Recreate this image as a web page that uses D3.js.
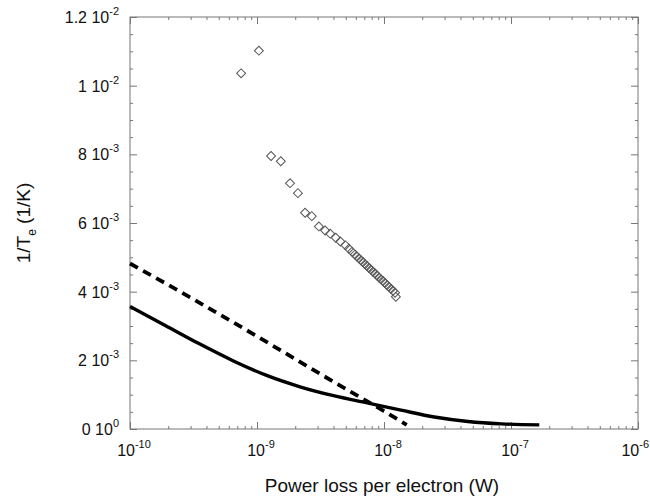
<!DOCTYPE html>
<html>
<head>
<meta charset="utf-8">
<script src="https://cdn.jsdelivr.net/npm/d3@7"></script>
<style>
  body { margin: 0; background: #fff; }
  text { font-family: "Liberation Sans", Arial, sans-serif; fill: #111; }
</style>
</head>
<body>
<div id="chart"></div>
<script>
// measured points (diamonds)
var measP = [7.5e-10, 1.035e-9, 1.29e-9, 1.54e-9, 1.82e-9, 2.10e-9, 2.39e-9, 2.70e-9, 3.07e-9, 3.44e-9,
  3.77e-9, 4.17e-9, 4.53e-9, 4.97e-9, 5.30e-9, 5.60e-9, 5.91e-9, 6.13e-9, 6.35e-9, 6.59e-9,
  6.84e-9, 7.09e-9, 7.35e-9, 7.62e-9, 7.91e-9, 8.19e-9, 8.50e-9, 8.81e-9, 9.14e-9, 9.47e-9,
  9.82e-9, 1.019e-8, 1.056e-8, 1.095e-8, 1.135e-8, 1.178e-8, 1.221e-8, 1.24e-8];
var measInvT = [10.36e-3, 11.02e-3, 7.95e-3, 7.80e-3, 7.16e-3, 6.87e-3, 6.30e-3, 6.20e-3, 5.90e-3, 5.78e-3,
  5.69e-3, 5.57e-3, 5.46e-3, 5.35e-3, 5.25e-3, 5.16e-3, 5.08e-3, 5.02e-3, 4.97e-3, 4.91e-3,
  4.86e-3, 4.80e-3, 4.75e-3, 4.69e-3, 4.64e-3, 4.58e-3, 4.53e-3, 4.47e-3, 4.41e-3, 4.36e-3,
  4.31e-3, 4.25e-3, 4.19e-3, 4.14e-3, 4.08e-3, 4.03e-3, 3.97e-3, 3.85e-3];

// solid model curve
var solidP = [1e-10, 1.91e-10, 3.52e-10, 6.46e-10, 1.19e-9, 2.18e-9, 4.01e-9, 7.38e-9, 1.36e-8, 2.49e-8, 4.58e-8, 8.41e-8, 1.67e-7];
var solidInvT = [3.57e-3, 3.01e-3, 2.48e-3, 1.99e-3, 1.56e-3, 1.23e-3, 0.97e-3, 0.76e-3, 0.55e-3, 0.35e-3, 0.22e-3, 0.15e-3, 0.12e-3];

// dashed model curve
var dashP = [1e-10, 3.16e-10, 1e-9, 3.16e-9, 1e-8, 1.51e-8];
var dashInvT = [4.82e-3, 3.78e-3, 2.70e-3, 1.60e-3, 0.52e-3, 0.12e-3];

var xMajor = [1e-10, 1e-9, 1e-8, 1e-7, 1e-6];
var xExp = ["-10", "-9", "-8", "-7", "-6"];
var yMajor = [0, 0.002, 0.004, 0.006, 0.008, 0.010, 0.012];
var yMant = ["0", "2", "4", "6", "8", "1", "1.2"];
var yExp = ["0", "-3", "-3", "-3", "-3", "-2", "-2"];

var W = 650, H = 503;
var plotL = 130, plotR = 638, plotT = 17, plotB = 429;

var svg = d3.select("#chart").append("svg").attr("width", W).attr("height", H);

var x = d3.scaleLog().domain([1e-10, 1e-6]).range([plotL, plotR]);
var y = d3.scaleLinear().domain([0, 0.012]).range([plotB, plotT]);

// minor log ticks
var xMinor = [];
for (var e = -10; e < -6; e++) {
  for (var m = 2; m <= 9; m++) xMinor.push(m * Math.pow(10, e));
}
var yMinor = d3.range(0, 0.01201, 0.0005).filter(function (v) {
  return yMajor.every(function (t) { return Math.abs(t - v) > 1e-7; });
});

var axisColor = "#777";
function styleAxis(g) {
  g.select(".domain").remove();
  g.selectAll("line").attr("stroke", axisColor);
}

// bottom / top
svg.append("g").attr("transform", "translate(0," + plotB + ")")
  .call(d3.axisBottom(x).tickValues(xMinor).tickSize(-3).tickFormat("")).call(styleAxis);
svg.append("g").attr("transform", "translate(0," + plotT + ")")
  .call(d3.axisTop(x).tickValues(xMinor).tickSize(-3).tickFormat("")).call(styleAxis);
svg.append("g").attr("transform", "translate(0," + plotB + ")")
  .call(d3.axisBottom(x).tickValues(xMajor).tickSize(-7).tickFormat("")).call(styleAxis);
svg.append("g").attr("transform", "translate(0," + plotT + ")")
  .call(d3.axisTop(x).tickValues(xMajor).tickSize(-7).tickFormat("")).call(styleAxis);

// left / right
svg.append("g").attr("transform", "translate(" + plotL + ",0)")
  .call(d3.axisLeft(y).tickValues(yMinor).tickSize(-3).tickFormat("")).call(styleAxis);
svg.append("g").attr("transform", "translate(" + plotR + ",0)")
  .call(d3.axisRight(y).tickValues(yMinor).tickSize(-3).tickFormat("")).call(styleAxis);
svg.append("g").attr("transform", "translate(" + plotL + ",0)")
  .call(d3.axisLeft(y).tickValues(yMajor).tickSize(-7).tickFormat("")).call(styleAxis);
svg.append("g").attr("transform", "translate(" + plotR + ",0)")
  .call(d3.axisRight(y).tickValues(yMajor).tickSize(-7).tickFormat("")).call(styleAxis);

// frame
svg.append("rect").attr("x", plotL).attr("y", plotT).attr("width", plotR - plotL).attr("height", plotB - plotT)
  .attr("fill", "none").attr("stroke", axisColor).attr("stroke-width", 1);

// x tick labels (last one pulled in so it stays inside the page)
xMajor.forEach(function (v, i) {
  var last = i === xMajor.length - 1;
  var t = svg.append("text").attr("x", last ? W - 1 : x(v) + 4).attr("y", plotB + 27)
    .attr("text-anchor", last ? "end" : "middle").style("font-size", "16px");
  t.append("tspan").text("10");
  t.append("tspan").attr("dy", -8).style("font-size", "11px").text(xExp[i]);
});

// y tick labels
yMajor.forEach(function (v, i) {
  var t = svg.append("text").attr("x", plotL - 11).attr("y", y(v) + 6)
    .attr("text-anchor", "end").style("font-size", "16px");
  t.append("tspan").text(yMant[i] + " 10");
  t.append("tspan").attr("dy", -8).style("font-size", "11px").text(yExp[i]);
});

// axis titles
svg.append("text").attr("x", 382).attr("y", 492)
  .attr("text-anchor", "middle").style("font-size", "19px").text("Power loss per electron (W)");
var yl = svg.append("text").attr("transform", "translate(30," + ((plotT + plotB) / 2) + ") rotate(-90)")
  .attr("text-anchor", "middle").style("font-size", "19px");
yl.append("tspan").text("1/T");
yl.append("tspan").attr("dy", 6).style("font-size", "12px").text("e");
yl.append("tspan").attr("dy", -6).text(" (1/K)");

// curves
var line = d3.line().x(function (d) { return x(d[0]); }).y(function (d) { return y(d[1]); }).curve(d3.curveMonotoneX);

svg.append("path").datum(d3.zip(solidP, solidInvT)).attr("d", line)
  .attr("fill", "none").attr("stroke", "#000").attr("stroke-width", 3.4);
svg.append("path").datum(d3.zip(dashP, dashInvT)).attr("d", line)
  .attr("fill", "none").attr("stroke", "#000").attr("stroke-width", 3.8).attr("stroke-dasharray", "9,6");

// diamonds
svg.append("g").selectAll("path").data(d3.zip(measP, measInvT)).enter().append("path")
  .attr("d", d3.symbol().type(d3.symbolSquare).size(40))
  .attr("transform", function (d) { return "translate(" + x(d[0]) + "," + y(d[1]) + ") rotate(45)"; })
  .attr("fill", "none").attr("stroke", "#555").attr("stroke-width", 1);
</script>
</body>
</html>
